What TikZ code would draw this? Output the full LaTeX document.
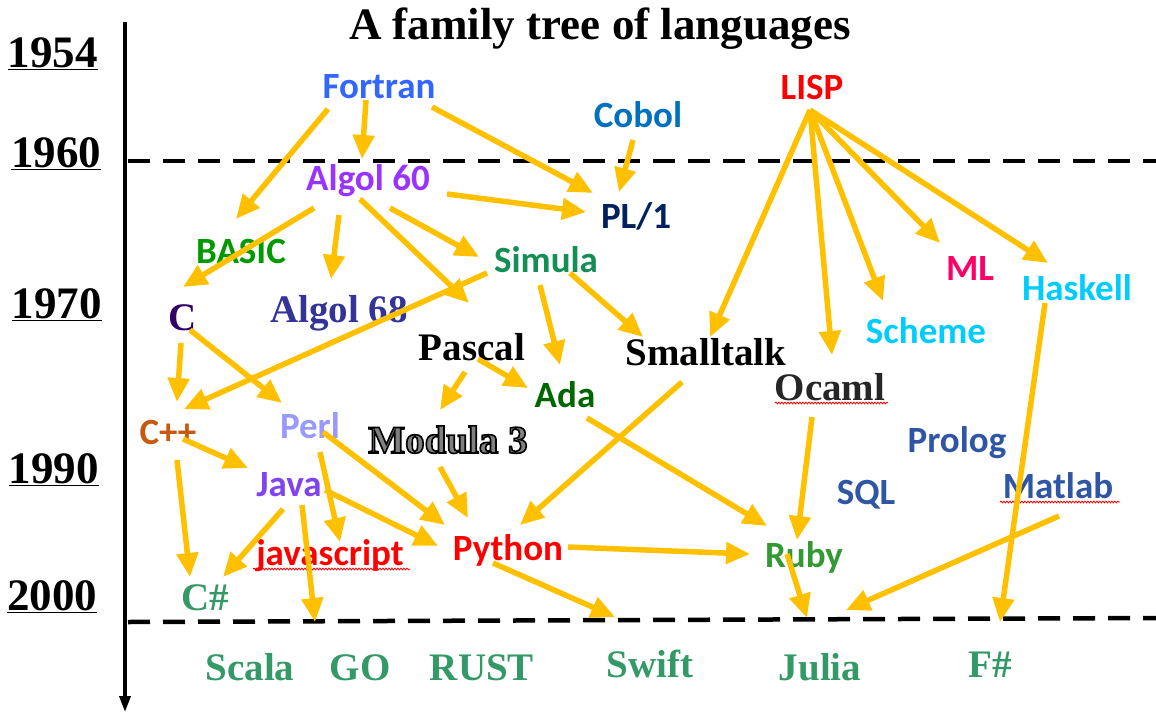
\documentclass[tikz,border=0pt]{standalone}
\usepackage{fontspec}
\setmainfont{Liberation Serif}
\newfontfamily\calibri{Carlito}
\usepackage{tikz}
\usetikzlibrary{arrows.meta,decorations.pathmorphing}
\definecolor{arrowc}{HTML}{FFC000}
\definecolor{fortranc}{HTML}{3366FF}
\definecolor{cobolc}{HTML}{0070C0}
\definecolor{algolc}{HTML}{9933FF}
\definecolor{plc}{HTML}{002060}
\definecolor{basicc}{HTML}{009900}
\definecolor{simulac}{HTML}{138F55}
\definecolor{mlc}{HTML}{FF0066}
\definecolor{skyc}{HTML}{00CCFF}
\definecolor{cc}{HTML}{330066}
\definecolor{algolhuitc}{HTML}{333399}
\definecolor{ocamlc}{HTML}{262626}
\definecolor{adac}{HTML}{006600}
\definecolor{cppc}{HTML}{C55A11}
\definecolor{perlc}{HTML}{9999FF}
\definecolor{prologc}{HTML}{2F55A5}
\definecolor{javac}{HTML}{7F44F0}
\definecolor{rubyc}{HTML}{339933}
\definecolor{newc}{HTML}{339966}
\newcommand\descend[4]{%
  \draw[arr] ([shift={(#2)}]#1.base) -- ([shift={(#4)}]#3.base);}
% outlined grey letters (fill grey, black stroke)
\newcommand\relief[1]{%
  {\color{gray}\special{pdf:literal direct 0 G 2 Tr 1.6 w}#1\special{pdf:literal direct 0 Tr}}}
\tikzset{
  cal/.style={font=\calibri\bfseries\fontsize{37}{40}\selectfont, anchor=base, inner sep=0pt},
  tms/.style={font=\bfseries\fontsize{39}{42}\selectfont, anchor=base, inner sep=0pt},
  year/.style={font=\bfseries\fontsize{45}{48}\selectfont, anchor=base, inner sep=0pt},
  arr/.style={draw=arrowc, line width=5.5pt, -{Triangle[length=24pt,width=21pt]}},
  limit/.style={line width=4.5pt, dash pattern=on 22pt off 13pt},
  wavy/.style={red, line width=0.8pt, decorate, decoration={snake, amplitude=0.9pt, segment length=3pt}}
}

\begin{document}
\begin{tikzpicture}[x=1pt, y=-1pt]
  \useasboundingbox (0,0) rectangle (1156,723);

  % time axis
  \coordinate (axtop) at (125,22);
  \coordinate (axbot) at (125,712);
  \draw[line width=3.5pt, -{Triangle[length=16pt,width=11pt]}] (axtop) -- (axbot);
  \coordinate (sixtyl) at (128,161);
  \coordinate (sixtyr) at (1156,161);
  \coordinate (milll) at (128,622);
  \coordinate (millr) at (1156,618);
  \draw[limit] (sixtyl) -- (sixtyr);
  \draw[limit] (milll) -- (millr);

  \node[year] (title) at (600,39) {A family tree of languages};
  \node[year] (yfiftyfour) at (53,67) {\underline{1954}};
  \node[year] (ysixty) at (56,167) {\underline{1960}};
  \node[year] (yseventy) at (57,318) {\underline{1970}};
  \node[year] (yninety) at (54,483) {\underline{1990}};
  \node[year] (ytwothousand) at (52,610) {\underline{2000}};

  % languages
  \node[cal, fortranc] (fortran) at (379,98) {Fortran};
  \node[cal, cobolc] (cobol) at (638,127) {Cobol};
  \node[cal, red] (lisp) at (812,99) {LISP};
  \node[cal, algolc] (algolsixty) at (368,190) {Algol 60};
  \node[cal, plc] (plone) at (636,228) {PL/1};
  \node[cal, basicc] (basic) at (241,263) {BASIC};
  \node[cal, simulac] (simula) at (546,272) {Simula};
  \node[cal, mlc] (ml) at (970,280) {ML};
  \node[cal, skyc] (haskell) at (1077,300) {Haskell};
  \node[cal, skyc] (scheme) at (926,343) {Scheme};
  \node[tms, cc] (c) at (183,330) {C};
  \node[tms, algolhuitc] (algolsixtyeight) at (339,322) {Algol 68};
  \node[tms] (pascal) at (472,360) {Pascal};
  \node[tms] (smalltalk) at (706,365) {Smalltalk};
  \node[tms, ocamlc] (ocaml) at (830,400) {Ocaml};
  \node[cal, adac] (ada) at (565,407) {Ada};
  \node[cal, cppc] (cpp) at (168,444) {C++};
  \node[cal, perlc] (perl) at (310,438) {Perl};
  \node[tms] (modula) at (448,453) {\relief{Modula 3}};
  \node[cal, prologc] (prolog) at (957,452) {Prolog};
  \node[cal, javac] (java) at (289,496) {Java};
  \node[cal, prologc] (sql) at (866,504) {SQL};
  \node[cal, prologc] (matlab) at (1058,498) {Matlab};
  \node[cal, red] (javascript) at (330,565) {javascript};
  \node[cal, red] (python) at (508,560) {Python};
  \node[cal, rubyc] (ruby) at (804,567) {Ruby};
  \node[tms, newc] (csharp) at (205,610) {C\#};
  \node[tms, newc] (scala) at (250,680) {Scala};
  \node[tms, newc] (go) at (360,680) {GO};
  \node[tms, newc] (rust) at (482,680) {RUST};
  \node[tms, newc] (swift) at (650,677) {Swift};
  \node[tms, newc] (julia) at (820,680) {Julia};
  \node[tms, newc] (fsharp) at (990,677) {F\#};

  \draw[wavy] ([shift={(-55,3)}]ocaml.base) -- ([shift={(58,3)}]ocaml.base);
  \draw[wavy] ([shift={(-77,4)}]javascript.base) -- ([shift={(80,4)}]javascript.base);
  \draw[wavy] ([shift={(-58,4)}]matlab.base) -- ([shift={(62,4)}]matlab.base);

  % descent
  \descend{fortran}{-51,11}{basic}{-5,-44}
  \descend{fortran}{-13,2}{algolsixty}{-6,-31}
  \descend{fortran}{53,9}{plone}{-43,-35}
  \descend{cobol}{-5,13}{plone}{-17,-36}
  \descend{algolsixty}{79,4}{plone}{-50,-16}
  \descend{algolsixty}{-54,18}{c}{0,-43}
  \descend{algolsixty}{-29,25}{algolsixtyeight}{-8,-43}
  \descend{algolsixty}{22,18}{simula}{-67,-15}
  \descend{algolsixty}{-8,9}{pascal}{-3,-57}
  \descend{simula}{-59,1}{cpp}{16,-35}
  \descend{simula}{-6,13}{ada}{-5,-42}
  \descend{simula}{24,1}{smalltalk}{-63,-28}
  \descend{lisp}{-2,11}{smalltalk}{4,-28}
  \descend{lisp}{-2,11}{ocaml}{2,-45}
  \descend{lisp}{-2,11}{scheme}{-43,-42}
  \descend{lisp}{-2,11}{ml}{-30,-37}
  \descend{lisp}{-2,11}{haskell}{-29,-37}
  \descend{c}{-2,13}{cpp}{9,-42}
  \descend{c}{7,0}{perl}{-28,-35}
  \descend{pascal}{-7,12}{modula}{-8,-43}
  \descend{pascal}{6,-1}{ada}{-37,-19}
  \descend{cpp}{15,-5}{java}{-41,-28}
  \descend{cpp}{9,16}{csharp}{-15,-33}
  \descend{perl}{13,-6}{python}{-63,-35}
  \descend{perl}{10,14}{javascript}{10,-23}
  \descend{modula}{-8,14}{python}{-40,-42}
  \descend{smalltalk}{-24,17}{python}{12,-35}
  \descend{java}{36,-6}{python}{-70,-14}
  \descend{java}{-6,13}{csharp}{18,-33}
  \descend{java}{13,9}{scala}{65,-58}
  \descend{ada}{22,11}{ruby}{-37,-41}
  \descend{python}{60,-13}{ruby}{-54,-13}
  \descend{python}{-15,3}{swift}{-35,-60}
  \descend{ocaml}{-18,17}{ruby}{-7,-27}
  \descend{ruby}{-17,-13}{julia}{-13,-62}
  \descend{matlab}{1,18}{julia}{26,-70}
  \descend{haskell}{-32,3}{fsharp}{10,-55}
\end{tikzpicture}
\end{document}
